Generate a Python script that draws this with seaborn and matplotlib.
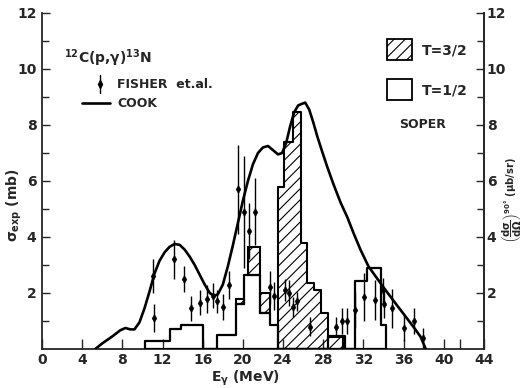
import matplotlib
matplotlib.use("Agg")
import matplotlib.pyplot as plt
from matplotlib.patches import Rectangle
from matplotlib.lines import Line2D
import seaborn as sns

# Cook calculation (mb)
cook_e = [5.3, 6.0, 7.0, 7.8, 8.3, 8.8, 9.2, 9.7, 10.2, 10.7, 11.2, 11.7, 12.2,
          12.7, 13.2, 13.7, 14.2, 14.7, 15.2, 15.7, 16.2, 16.7, 17.1, 17.5, 18.0,
          18.5, 19.0, 19.5, 20.0, 20.5, 21.0, 21.5, 22.0, 22.5, 23.0, 23.5, 23.9,
          24.3, 24.7, 25.1, 25.5, 25.9, 26.2, 26.6, 27.0, 27.4, 27.8, 28.4, 29.0,
          29.7, 30.4, 31.0, 31.7, 32.5, 33.2, 34.0, 35.0, 36.0, 37.0, 37.7, 38.2]
cook_sigma = [0.0, 0.2, 0.45, 0.67, 0.75, 0.7, 0.7, 0.95, 1.45, 2.05, 2.7, 3.15, 3.45,
              3.65, 3.75, 3.72, 3.55, 3.3, 3.0, 2.65, 2.3, 2.0, 1.9, 1.95, 2.3,
              2.95, 3.7, 4.5, 5.3, 6.0, 6.6, 7.0, 7.2, 7.25, 7.1, 6.95, 7.0,
              7.35, 7.95, 8.45, 8.7, 8.76, 8.8, 8.55, 8.1, 7.6, 7.15, 6.5, 5.9,
              5.25, 4.7, 4.15, 3.55, 2.95, 2.6, 2.2, 1.72, 1.25, 0.78, 0.43, 0.0]

# Fisher et al. measurements with their uncertainties
fisher_e = [11.0, 11.1, 13.1, 14.1, 14.8, 15.7, 16.4, 17.0, 17.4, 18.0, 18.6, 19.5,
            20.1, 20.6, 21.2, 22.7, 23.1, 24.2, 24.6, 25.0, 25.4, 26.7, 29.3, 29.9,
            30.4, 31.2, 32.1, 33.1, 33.9, 34.0, 34.8, 36.0, 37.0, 37.9]
fisher_sigma = [2.6, 1.1, 3.2, 2.5, 1.45, 1.65, 1.8, 1.9, 1.7, 1.5, 2.3, 5.7,
                4.9, 4.2, 4.9, 2.2, 1.9, 2.1, 2.0, 1.5, 1.7, 0.8, 0.8, 1.0,
                1.0, 1.4, 1.85, 1.75, 2.1, 1.6, 1.45, 0.75, 1.0, 0.4]
fisher_err = [0.6, 0.5, 0.7, 0.45, 0.45, 0.45, 0.5, 0.45, 0.4, 0.45, 0.5, 1.6,
              2.0, 1.0, 1.2, 0.6, 0.5, 0.4, 0.45, 0.35, 0.35, 0.35, 0.35, 0.45,
              0.45, 0.65, 0.85, 0.7, 0.45, 0.5, 0.7, 0.45, 0.45, 0.35]

# Soper T=1/2 strength (open histogram)
half_edges = [10.3, 12.7, 13.8, 16.0, 17.4, 19.3, 20.1, 21.7, 22.7, 23.5,
              28.5, 30.2, 31.2, 32.4, 33.7, 34.2]
half_sigma = [0.3, 0.7, 0.85, 0.0, 0.5, 1.6, 2.65, 1.3, 0.85, 0.0,
              0.45, 0.0, 2.43, 2.9, 0.85]

# Soper T=3/2 strength (hatched histogram)
tq_edges = [23.5, 24.1, 25.0, 25.8, 26.4, 27.1, 27.8, 28.5, 30.0]
tq_sigma = [5.8, 7.4, 8.45, 3.8, 2.35, 2.1, 1.3, 0.42]

# T=3/2 pieces sitting on top of T=1/2 bins
stack_left = [19.3, 20.5, 21.7]
stack_right = [20.1, 21.7, 22.7]
stack_base = [1.6, 2.65, 1.3]
stack_top = [1.8, 3.65, 2.0]

x_ticks = [0, 4, 8, 12, 16, 20, 24, 28, 32, 36, 40, 44]
y_ticks = [2, 4, 6, 8, 10, 12]
y_minor = [1, 3, 5, 7, 9, 11]

sns.set_theme(style="ticks")
plt.rcParams.update({
    "font.family": ["DejaVu Sans"],
    "font.weight": "bold",
    "font.size": 10,
    "axes.linewidth": 1.3,
    "mathtext.fontset": "custom",
    "mathtext.rm": "DejaVu Sans:bold",
    "mathtext.it": "DejaVu Sans:bold",
    "mathtext.bf": "DejaVu Sans:bold",
    "mathtext.sf": "DejaVu Sans:bold",
    "hatch.linewidth": 0.8,
    "hatch.color": "black",
})

fig = plt.figure(figsize=(5.26, 3.88), dpi=100)
ax = fig.add_axes([42 / 526, 1 - 349 / 388, 442 / 526, 336 / 388])


def centers(edges):
    return [(a + b) / 2 for a, b in zip(edges[:-1], edges[1:])]


# hatched T=3/2 histogram
sns.histplot(x=centers(tq_edges), weights=tq_sigma, bins=tq_edges, element="step",
             fill=True, color="black", facecolor="none", edgecolor="black",
             linewidth=1.5, hatch="///", ax=ax, zorder=2)
ax.bar(stack_left, [t - b for t, b in zip(stack_top, stack_base)],
       width=[r - l for l, r in zip(stack_left, stack_right)], bottom=stack_base,
       align="edge", facecolor="none", edgecolor="black", linewidth=1.5,
       hatch="///", zorder=2)

# open T=1/2 histogram
sns.histplot(x=centers(half_edges), weights=half_sigma, bins=half_edges, element="step",
             fill=True, color="black", facecolor="none", edgecolor="black",
             linewidth=1.6, ax=ax, zorder=3)

# Cook curve
sns.lineplot(x=cook_e, y=cook_sigma, color="black", linewidth=1.9, ax=ax,
             estimator=None, sort=False, zorder=4)

# Fisher et al. points
ax.errorbar(fisher_e, fisher_sigma, yerr=fisher_err, fmt="none", ecolor="black",
            elinewidth=1.0, capsize=0, zorder=5)
sns.scatterplot(x=fisher_e, y=fisher_sigma, marker="d", s=16, color="black",
                edgecolor="black", linewidth=0.4, ax=ax, zorder=6)

ax.set_xlim(0, 44)
ax.set_ylim(0, 12)
ax.set_xticks(x_ticks)
ax.set_xticks([41.6], minor=True)
ax.set_yticks(y_ticks)
ax.set_yticks(y_minor, minor=True)
ax.tick_params(axis="x", which="both", direction="in", length=7, width=1.0, pad=3,
               labelsize=10)
ax.tick_params(axis="y", which="major", direction="in", length=6, width=1.0, pad=4,
               labelsize=10)
ax.tick_params(axis="y", which="minor", direction="in", length=5, width=1.0)
ax.spines["top"].set_visible(False)
ax.set_xlabel("")
ax.set_ylabel("")

ax2 = ax.twinx()
ax2.set_ylim(0, 12)
ax2.set_yticks(y_ticks)
ax2.set_yticks(y_minor, minor=True)
ax2.tick_params(axis="y", which="major", direction="in", length=6, width=1.0, pad=2,
                labelsize=10)
ax2.tick_params(axis="y", which="minor", direction="in", length=5, width=1.0)
ax2.spines["top"].set_visible(False)
ax2.spines["left"].set_visible(False)
ax2.spines["bottom"].set_visible(False)


def fx(px):
    return (px - 42) / 442


def fy(py):
    return (349 - py) / 336


# axis titles
ax.text(fx(245), fy(378), r"E$_\gamma$ (MeV)", transform=ax.transAxes,
        ha="center", va="center", fontsize=10)
ax.text(fx(14), fy(205), r"$\sigma_{exp}$ (mb)", transform=ax.transAxes,
        rotation=90, ha="center", va="center", fontsize=10)
ax.text(fx(512), fy(200),
        r"$\left(\dfrac{d\sigma}{d\Omega}\right)^{90\degree}$ ($\mu$b/sr)",
        transform=ax.transAxes, rotation=90, ha="center", va="center", fontsize=7.2)

# reaction and key on the left
ax.text(fx(64), fy(58), r"$^{12}$C(p,$\gamma$)$^{13}$N", transform=ax.transAxes,
        ha="left", va="center", fontsize=10)
ax.add_line(Line2D([fx(100), fx(100)], [fy(75), fy(93)], transform=ax.transAxes,
                   color="black", linewidth=1.0))
ax.add_line(Line2D([fx(100)], [fy(84)], transform=ax.transAxes, color="black",
                   marker="d", markersize=4))
ax.text(fx(117), fy(84), "FISHER  et.al.", transform=ax.transAxes,
        ha="left", va="center", fontsize=9)
ax.add_line(Line2D([fx(82), fx(110)], [fy(103), fy(103)], transform=ax.transAxes,
                   color="black", linewidth=1.9))
ax.text(fx(117), fy(103), "COOK", transform=ax.transAxes,
        ha="left", va="center", fontsize=9)

# key on the right
ax.add_patch(Rectangle((fx(387), fy(60)), fx(412) - fx(387), fy(39) - fy(60),
                       transform=ax.transAxes, facecolor="none", edgecolor="black",
                       linewidth=1.3, hatch="///"))
ax.text(fx(422), fy(50), "T=3/2", transform=ax.transAxes, ha="left", va="center",
        fontsize=10)
ax.add_patch(Rectangle((fx(387), fy(100)), fx(412) - fx(387), fy(79) - fy(100),
                       transform=ax.transAxes, facecolor="none", edgecolor="black",
                       linewidth=1.3))
ax.text(fx(422), fy(90), "T=1/2", transform=ax.transAxes, ha="left", va="center",
        fontsize=10)
ax.text(fx(423), fy(125), "SOPER", transform=ax.transAxes, ha="center", va="center",
        fontsize=9)

fig.savefig("out.png", dpi=100)
